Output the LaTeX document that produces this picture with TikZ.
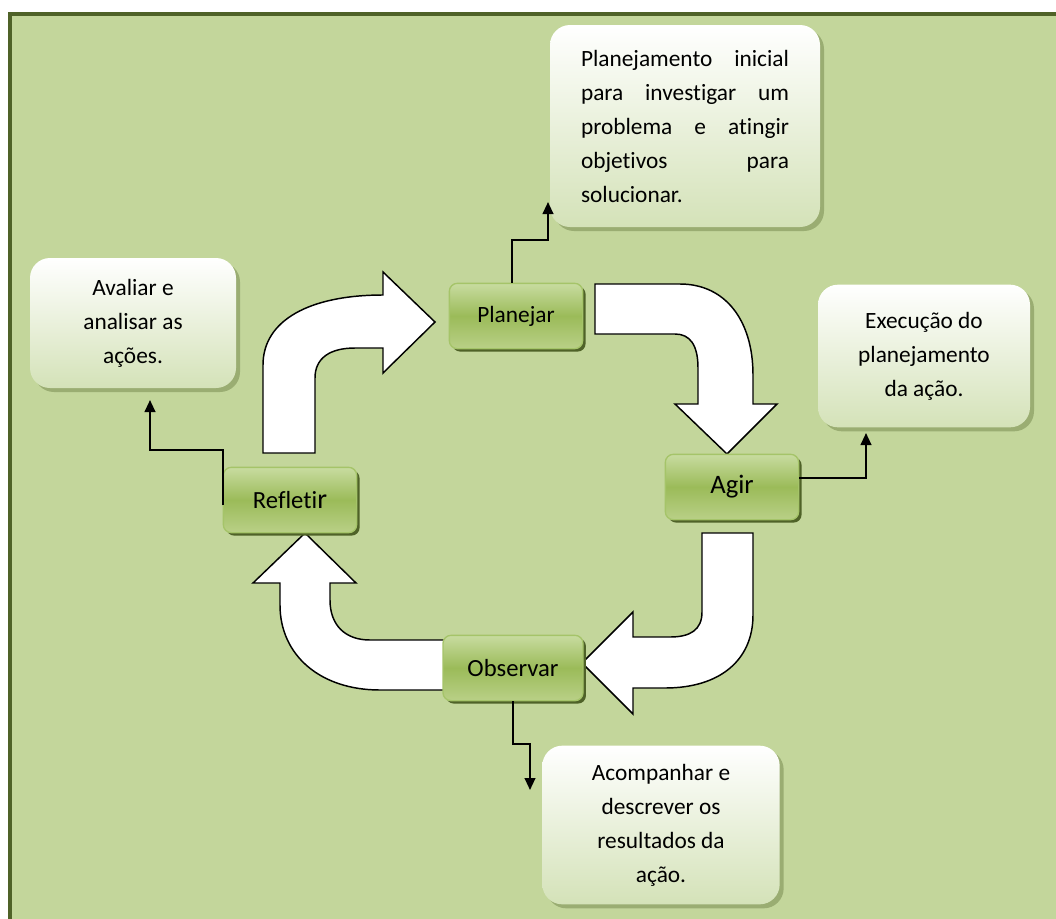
\documentclass[tikz,border=0pt]{standalone}
\usepackage{fontspec}
\setmainfont{Carlito}[Ligatures=NoCommon]
\usepackage{xcolor}
\usepackage{tikz}
\usetikzlibrary{positioning}
\usetikzlibrary{shadows}
\usetikzlibrary{arrows.meta}
\usetikzlibrary{calc}

\definecolor{bgreen}{RGB}{195,214,155}
\definecolor{frame}{RGB}{79,98,40}
\definecolor{boxtop}{RGB}{200,220,160}
\definecolor{boxmid}{RGB}{155,187,89}
\definecolor{boxbot}{RGB}{185,208,135}
\definecolor{boxedge}{RGB}{165,196,105}
\definecolor{notebot}{RGB}{212,226,184}

\begin{document}
\begin{tikzpicture}
  [
    x=0.75pt, y=-0.75pt,
    stage/.style={rounded corners=6pt, draw=boxedge, line width=1pt,
      top color=boxtop, bottom color=boxbot, middle color=boxmid,
      minimum width=100pt, minimum height=49pt, inner sep=0pt,
      font=\fontsize{17.5}{20}\selectfont,
      drop shadow={shadow xshift=2.2pt, shadow yshift=-2.2pt, fill=frame, opacity=1}},
    note/.style={rounded corners=15pt, top color=white, bottom color=notebot,
      align=center, inner sep=0pt, font=\fontsize{17.5}{25.5}\selectfont,
      drop shadow={shadow xshift=3pt, shadow yshift=-3pt, fill=frame, opacity=0.35}},
    cyclearrow/.style={draw=black, fill=white, line width=1.1pt, line join=miter},
    link/.style={draw=black, line width=1.5pt, -{Triangle[width=8pt,length=9pt]}}
  ]
  \clip (0,0) rectangle (1056,918);
  \fill [white] (0,0) rectangle (1056,918);
  \draw [frame, line width=3pt, fill=bgreen] (10,14) rectangle (1080,940);

  % block arrows of the cycle
  \draw [cyclearrow] (263,453) -- (263,365) .. controls (263,320) and (310,295) .. (383,295)
    -- (383,272) -- (435,322) -- (383,373) -- (383,348) -- (355,348)
    .. controls (330,348) and (315,358) .. (315,378) -- (315,453) -- cycle;
  \draw [cyclearrow] (595,284) -- (680,284) .. controls (725,284) and (753,320) .. (753,375)
    -- (753,404) -- (777,404) -- (727,454) -- (675,404) -- (698,404) -- (698,368)
    .. controls (698,345) and (690,334) .. (675,334) -- (595,334) -- cycle;
  \draw [cyclearrow] (702,533) -- (753,533) -- (753,615) .. controls (753,660) and (720,688) .. (665,688)
    -- (633,688) -- (633,714) -- (582,663) -- (633,612) -- (633,637) -- (670,637)
    .. controls (690,637) and (702,630) .. (702,612) -- cycle;
  \draw [cyclearrow] (445,640) -- (370,640) .. controls (345,640) and (330,625) .. (330,600)
    -- (330,583) -- (356,583) -- (305,533) -- (253,583) -- (280,583) -- (280,605)
    .. controls (280,655) and (320,690) .. (380,690) -- (445,690) -- cycle;

  \node (plan) at (516,316) [stage] {Planejar};
  \node (agir) at (732,487) [stage, font=\fontsize{20}{24}\selectfont] {Agir};
  \node (obs)  at (513,668) [stage, minimum width=105pt, font=\fontsize{18.5}{22}\selectfont] {Observar};
  \node (refl) at (290,500) [stage, font=\fontsize{18.5}{22}\selectfont] {Refleti{\fontsize{21}{24}\selectfont r}};

  \node (plantxt) at (685,126) [note, minimum width=202.5pt, minimum height=151.5pt,
    text width=156pt, align=justify]
    {Planejamento inicial\linebreak para investigar um\linebreak problema e atingir\linebreak objetivos para\linebreak solucionar.};
  \node (refltxt) at (133,323) [note, minimum width=154.5pt, minimum height=97.5pt]
    {Avaliar e\\ analisar as\\ ações.};
  \node (agirtxt) at (924,356) [note, minimum width=159pt, minimum height=107pt]
    {Execução do\\ planejamento\\ da ação.};
  \node (obstxt) at (661,825) [note, minimum width=178pt, minimum height=119pt]
    {Acompanhar e\\ descrever os\\ resultados da\\ ação.};

  \coordinate (planend) at (548,202);
  \coordinate (agirend) at (866,433);
  \coordinate (obsend)  at (530,790);
  \coordinate (reflend) at (150,400);

  \draw [link] ([xshift=-3pt]plan.north) -- ++(0,-43) -| (planend);
  \draw [link] ([yshift=7pt]agir.east) -| (agirend);
  \draw [link] (obs.south) -- ++(0,43) -| (obsend);
  \draw [link] ([yshift=-4pt]refl.west) -- ++(0,-55) -| (reflend);
\end{tikzpicture}
\end{document}
